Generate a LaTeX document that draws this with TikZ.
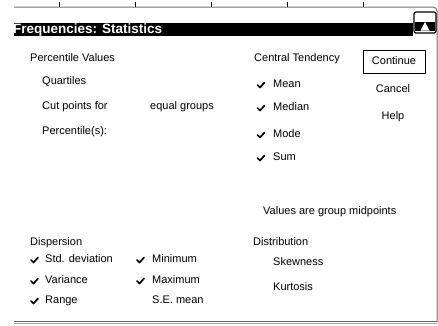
\documentclass[tikz,border=0pt]{standalone}
\usepackage{fontspec}
\setmainfont{Liberation Sans}
\begin{document}
\begin{tikzpicture}[x=1pt,y=-1pt,
  lbl/.style={anchor=west,inner sep=0pt,font=\fontsize{11}{13}\selectfont,text height=7.5pt,text depth=2pt},
  ctr/.style={lbl,anchor=center},
  chk/.style={line width=1.7pt,line cap=round,line join=round},
  frame/.style={draw=black!55,line width=1pt}]
\useasboundingbox[fill=white] (0,0) rectangle (438,325);
% top ruler line and right border
\draw[frame,rounded corners=4pt] (14,7) -- (437,7) -- (437,322);
\foreach \tx in {59,135,211,287,363} \draw[black,line width=0.8pt] (\tx,2) -- (\tx,7);
% title bar
\fill[black] (14,22.5) rectangle (413,35.5);
\begin{scope}
  \clip (14,22.5) rectangle (413,35.5);
  \node[anchor=base west,inner sep=0pt,text=white,font=\fontsize{13.5}{15}\selectfont\bfseries] (title) at (13,33.5) {Frequencies: Statistics};
\end{scope}
% close button
\draw[black,fill=white,line width=1.3pt,rounded corners=2pt] (414,12) rectangle (436,33);
\fill[black] (415,22) rectangle (435,30.5);
\fill[white] (425,22) -- (420.5,30.5) -- (429.5,30.5) -- cycle;
% bottom border
\draw[black!60,line width=1.3pt] (14,321.5) -- (437,321.5);
\draw[black!35,line width=1pt] (14,323.8) -- (437,323.8);
% Percentile values
\node[lbl] (pv) at (30,59) {Percentile Values};
\node[lbl] (q) at (42,82) {Quartiles};
\node[lbl] (cp) at (42,107) {Cut points for};
\node[lbl] (eg) at (150,107) {equal groups};
\node[lbl] (pc) at (42,132) {Percentile(s):};
% Central tendency
\node[lbl] (ct) at (254,59) {Central Tendency};
\node[lbl] (mean) at (273,85) {Mean};
\node[lbl] (median) at (273,108) {Median};
\node[lbl] (mode) at (273,135) {Mode};
\node[lbl] (sum) at (273,158) {Sum};
\foreach \cy in {85,108,135,158} \draw[chk] (257.5,\cy) -- (260,\cy+2.5) -- (264.5,\cy-2.5);
% buttons
\node[ctr,draw=black,line width=1pt,minimum width=62pt,minimum height=23pt] (cont) at (394,61.5) {Continue};
\node[ctr] (cancel) at (393,89.5) {Cancel};
\node[ctr] (help) at (393,116.5) {Help};
% group midpoints
\node[lbl] (vgm) at (263,212) {Values are group midpoints};
% Dispersion
\node[lbl] (disp) at (30,242.5) {Dispersion};
\node[lbl] (sd) at (45,260) {Std. deviation};
\node[lbl] (var) at (45,281) {Variance};
\node[lbl] (rng) at (45,301) {Range};
\node[lbl] (min) at (152,260) {Minimum};
\node[lbl] (max) at (152,281) {Maximum};
\node[lbl] (sem) at (152,301) {S.E. mean};
\foreach \cx/\cy in {31/260,31/281,31/301,137/260,137/281}
  \draw[chk] (\cx,\cy) -- (\cx+2.5,\cy+2.5) -- (\cx+7,\cy-2.5);
% Distribution
\node[lbl] (dist) at (253,242.5) {Distribution};
\node[lbl] (skew) at (273,263) {Skewness};
\node[lbl] (kurt) at (273,288) {Kurtosis};
\end{tikzpicture}
\end{document}
